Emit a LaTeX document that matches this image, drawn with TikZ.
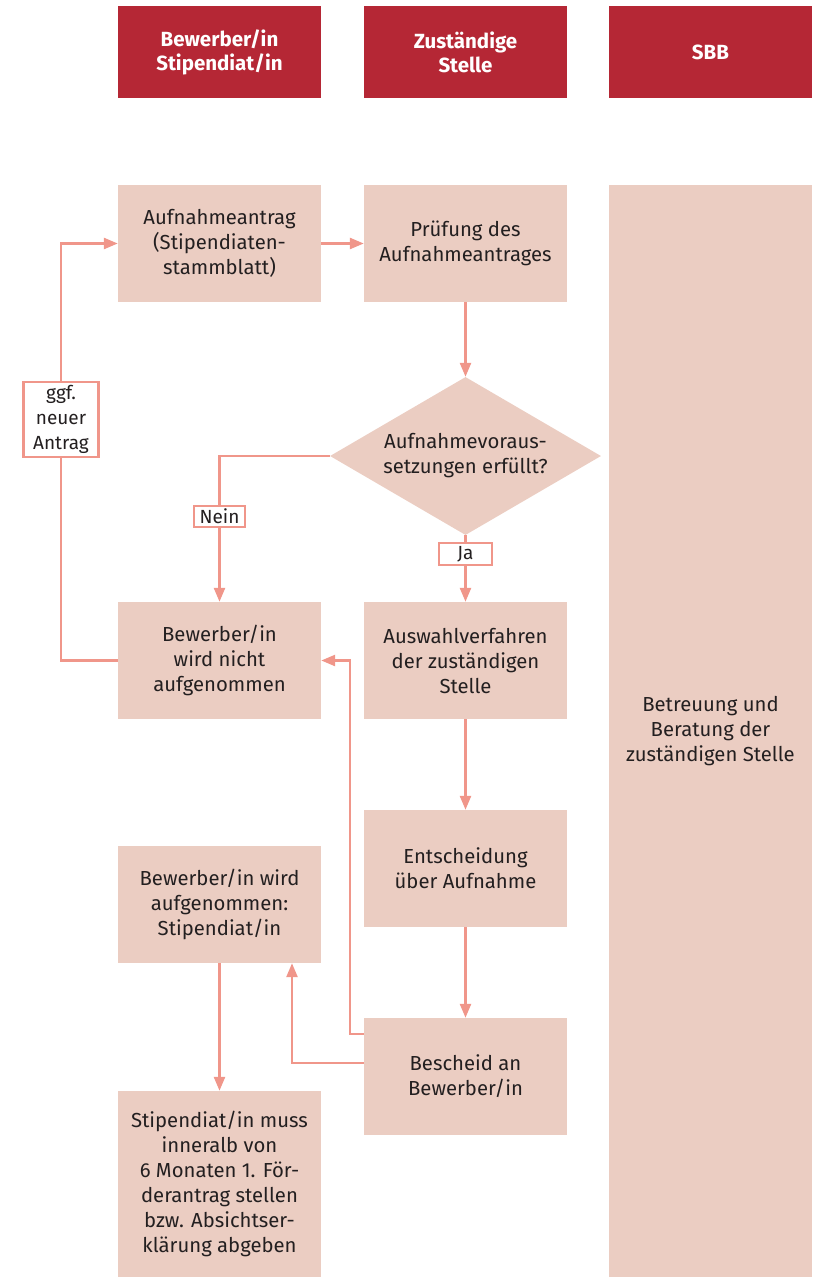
\documentclass[tikz,border=0pt]{standalone}
\usepackage{fontspec}
\setmainfont{Fira Sans}
\usetikzlibrary{shapes.geometric,arrows.meta,calc}
\definecolor{hdr}{HTML}{B52735}
\definecolor{boxc}{HTML}{EBCDC2}
\definecolor{arrc}{HTML}{F0968A}
\definecolor{txt}{HTML}{231F20}
\begin{document}
\begin{tikzpicture}[x=1pt,y=-1pt,
  hdrbox/.style={fill=hdr,text=white,minimum width=203pt,minimum height=92pt,inner sep=0pt,align=center,font=\fontsize{20.5}{24}\selectfont\bfseries},
  stepbox/.style={fill=boxc,text=txt,minimum width=203pt,minimum height=117pt,inner sep=0pt,align=center,font=\fontsize{20.3}{25}\selectfont},
  lbl/.style={fill=white,draw=arrc,line width=2.5pt,text=txt,inner sep=0pt,align=center,font=\fontsize{19}{25}\selectfont},
  conn/.style={draw=arrc,line width=2.5pt},
  arr/.style={conn,-{Triangle[length=14pt,width=11pt]}}]
\useasboundingbox (0,0) rectangle (816,1277);
% headers
\node[hdrbox] (h1) at (219.5,52) {Bewerber/in\\Stipendiat/in};
\node[hdrbox] (h2) at (465.5,52) {Zuständige\\Stelle};
\node[hdrbox] (h3) at (710.5,52) {SBB};
% SBB column
\node[stepbox,minimum height=1092pt] (sbb) at (710.5,731) {Betreuung und\\Beratung der\\zuständigen Stelle};
% boxes
\node[stepbox] (antrag) at (219.5,243.5) {Aufnahmeantrag\\(Stipendiaten-\\stammblatt)};
\node[stepbox] (pruef) at (465.5,243.5) {Prüfung des\\Aufnahmeantrages};
\node[diamond,fill=boxc,minimum width=271pt,minimum height=158pt,inner sep=0pt] (dia) at (465.5,456) {};
\node[text=txt,align=center,font=\fontsize{20.3}{25}\selectfont] (diatext) at (dia.center) {Aufnahmevoraus-\\setzungen erfüllt?};
\node[stepbox] (nicht) at (219.5,660.5) {Bewerber/in\\wird nicht\\aufgenommen};
\node[stepbox] (auswahl) at (465.5,660.5) {Auswahlverfahren\\der zuständigen\\Stelle};
\node[stepbox] (entsch) at (465.5,868.5) {Entscheidung\\über Aufnahme};
\node[stepbox] (aufgen) at (219.5,904.5) {Bewerber/in wird\\aufgenommen:\\Stipendiat/in};
\node[stepbox] (bescheid) at (465.5,1076.5) {Bescheid an\\Bewerber/in};
\node[stepbox,minimum height=186pt] (stip) at (219.5,1184) {Stipendiat/in muss\\inneralb von\\6 Monaten 1. För-\\derantrag stellen\\bzw. Absichtser-\\klärung abgeben};
% labels
\node[lbl,minimum width=75pt,minimum height=75pt] (ggf) at (61,419.5) {ggf.\\neuer\\Antrag};
\node[lbl,minimum width=51pt,minimum height=21pt] (nein) at (219.5,516.5) {Nein};
\node[lbl,minimum width=53pt,minimum height=22pt] (ja) at (465.5,554) {Ja};
% connectors
\draw[arr] (antrag.east) -- (pruef.west);
\draw[arr] (pruef.south) -- (dia.north);
\draw[conn] (dia.west) -| (nein.north);
\draw[arr] (nein.south) -- (nicht.north);
\draw[conn] (dia.south) -- (ja.north);
\draw[arr] (ja.south) -- (auswahl.north);
\draw[conn] (nicht.west) -| (ggf.south);
\draw[arr] (ggf.north) |- (antrag.west);
\draw[arr] (auswahl.south) -- (entsch.north);
\draw[arr] (entsch.south) -- (bescheid.north);
\draw[arr] ([yshift=42.5pt]bescheid.west) -- ++(-14,0) |- (nicht.east);
\draw[arr] ([yshift=13.5pt]bescheid.west) -| ([xshift=72.5pt]aufgen.south);
\draw[arr] (aufgen.south) -- (stip.north);
\end{tikzpicture}
\end{document}
